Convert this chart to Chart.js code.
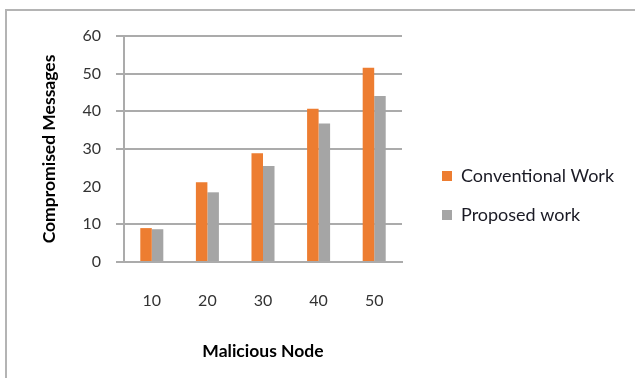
<!DOCTYPE html>
<html>
<head>
<meta charset="utf-8">
<script src="https://cdn.jsdelivr.net/npm/chart.js@4.4.1/dist/chart.umd.min.js"></script>
<style>
  html, body { margin: 0; padding: 0; background: #fff; }
  #wrap { position: relative; width: 635px; height: 378px; overflow: hidden; }
  #wrap canvas { position: absolute; left: 0; top: 0; }
  #frame {
    position: absolute; left: 5px; top: 9px; right: -10px; bottom: -10px;
    border-top: 2px solid #b4b4b4; border-left: 2px solid #b4b4b4;
    pointer-events: none;
  }
</style>
</head>
<body>
<div id="wrap">
  <canvas id="chart" width="635" height="378"></canvas>
  <div id="frame"></div>
</div>
<script>
// Compromised messages per number of malicious nodes
const maliciousNodes = ['10', '20', '30', '40', '50'];
const conventionalWork = [9.0, 21.2, 28.9, 40.7, 51.6];
const proposedWork = [8.7, 18.5, 25.5, 36.8, 44.1];
const yTickValues = [0, 10, 20, 30, 40, 50, 60];

const GRID = '#ababab';
const TICK_COLOR = '#333333';
const TICK_FONT = { family: 'Lato', size: 16 };
const TITLE_FONT = { family: 'Lato', size: 17.5, weight: 'bold' };
const LEGEND_WIDTH = 214;

// horizontal rules, left out at 20
const gridColor = (c) => (c.tick && c.tick.value === 20) ? 'rgba(0,0,0,0)' : GRID;

// gives the right-hand legend a fixed width instead of the layout's capped one
const legendWidth = {
  id: 'legendWidth',
  beforeLayout(chart) {
    const lg = chart.legend;
    if (lg && !lg.$fixedWidth) {
      const fit = lg.fit;
      lg.fit = function () { fit.call(this); this.width = LEGEND_WIDTH; };
      lg.$fixedWidth = true;
    }
  }
};

new Chart(document.getElementById('chart'), {
  type: 'bar',
  data: {
    labels: maliciousNodes,
    datasets: [
      { label: 'Conventional Work', data: conventionalWork, backgroundColor: '#ed7d31', borderWidth: 0 },
      { label: 'Proposed work', data: proposedWork, backgroundColor: '#a5a5a5', borderWidth: 0 }
    ]
  },
  plugins: [legendWidth],
  options: {
    responsive: false,
    animation: false,
    devicePixelRatio: 1,
    categoryPercentage: 0.414,
    barPercentage: 1.0,
    layout: { padding: { left: 30, top: 29, right: 0, bottom: 16 } },
    plugins: {
      tooltip: { enabled: false },
      legend: {
        position: 'right',
        labels: {
          boxWidth: 10,
          boxHeight: 10,
          padding: 21,
          color: '#1a1a24',
          font: { family: 'Lato', size: 18 }
        }
      }
    },
    scales: {
      x: {
        grid: { display: false, drawTicks: false },
        border: { display: true, color: GRID, width: 2 },
        ticks: { color: TICK_COLOR, font: TICK_FONT, padding: 29 },
        title: {
          display: true, text: 'Malicious Node', color: '#000',
          font: TITLE_FONT, padding: { top: 0, bottom: 0 }
        },
        afterFit: (s) => { s.height = 100; }
      },
      y: {
        min: 0,
        max: 60,
        afterBuildTicks: (s) => { s.ticks = yTickValues.map(v => ({ value: v })); },
        grid: { color: gridColor, tickColor: gridColor, lineWidth: 2, tickLength: 8, drawTicks: true },
        border: { display: true, color: GRID, width: 2 },
        ticks: { color: TICK_COLOR, font: TICK_FONT, padding: 15 },
        title: {
          display: true, text: 'Compromised Messages', color: '#000',
          font: TITLE_FONT, padding: { top: 9, bottom: 0 }
        },
        afterFit: (s) => { s.width = 94; }
      },
      // empty bands that set the gap above the plot and before the legend
      topGap: {
        axis: 'x', type: 'linear', position: 'top', display: true,
        grid: { display: false }, border: { display: false }, ticks: { display: false },
        afterFit: (s) => { s.height = 7; }
      },
      rightGap: {
        axis: 'y', type: 'linear', position: 'right', display: true,
        grid: { display: false }, border: { display: false }, ticks: { display: false },
        afterFit: (s) => { s.width = 19; }
      }
    }
  }
});
</script>
</body>
</html>
